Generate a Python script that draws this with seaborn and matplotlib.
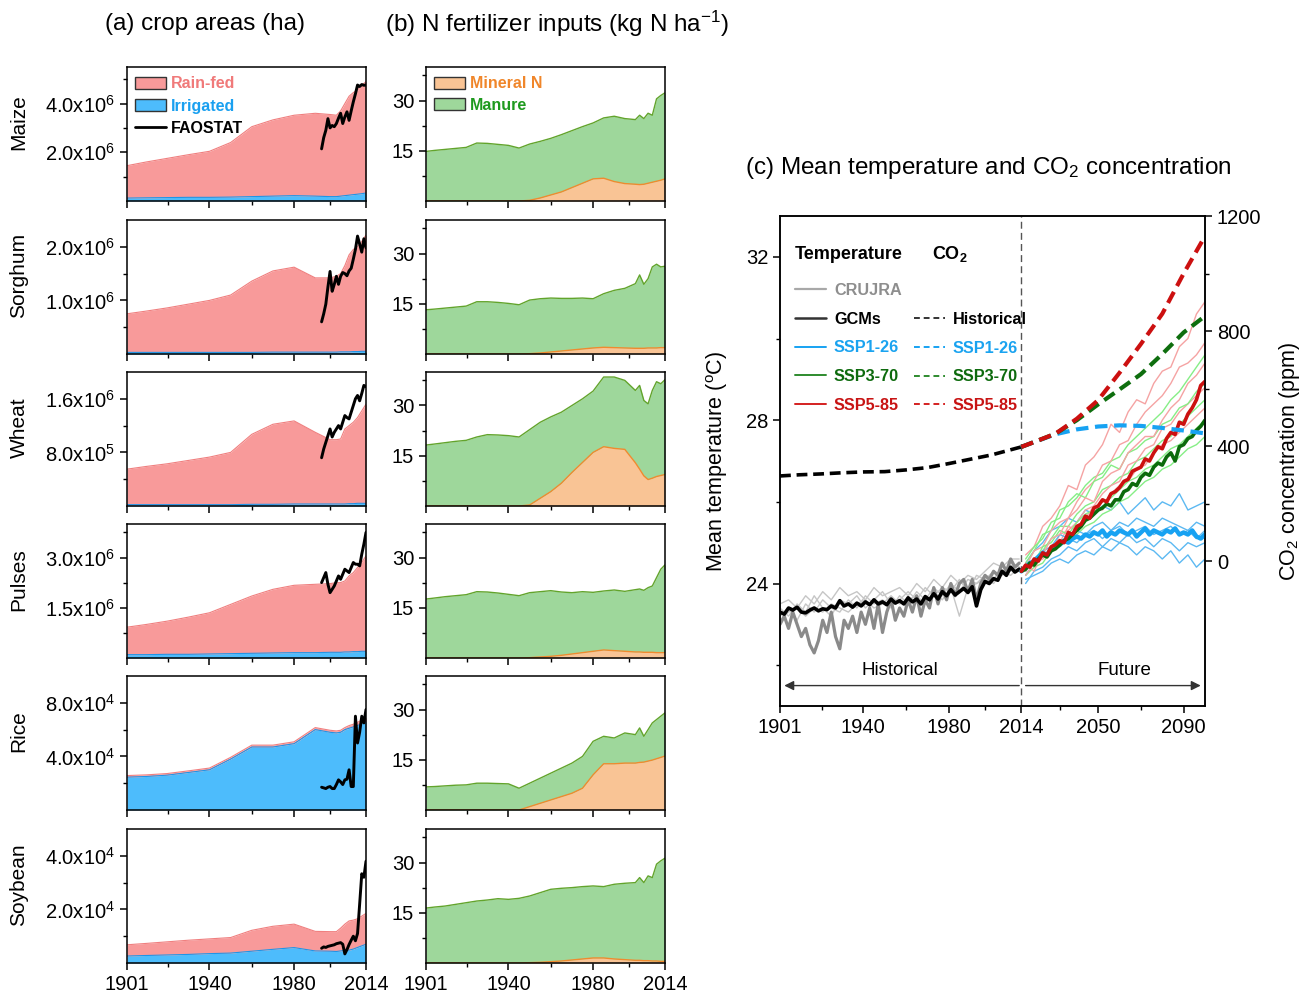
import numpy as np
import matplotlib
matplotlib.use("Agg")
import matplotlib.pyplot as plt
import seaborn as sns
from matplotlib.lines import Line2D
from matplotlib.patches import Patch
from matplotlib.ticker import FixedLocator, FixedFormatter

sns.set_style("ticks")
plt.rcParams['font.family'] = ['Liberation Sans', 'DejaVu Sans']
plt.rcParams['mathtext.fontset'] = 'custom'
plt.rcParams['mathtext.rm'] = 'Liberation Sans'
plt.rcParams['mathtext.it'] = 'Liberation Sans:italic'
plt.rcParams['mathtext.bf'] = 'Liberation Sans:bold'
plt.rcParams['axes.linewidth'] = 1.1
plt.rcParams['axes.edgecolor'] = 'black'
plt.rcParams['text.color'] = 'black'
plt.rcParams['axes.labelcolor'] = 'black'
plt.rcParams['xtick.color'] = 'black'
plt.rcParams['ytick.color'] = 'black'

# ---------------- DATA ----------------
crops = ["Maize", "Sorghum", "Wheat", "Pulses", "Rice", "Soybean"]

area_years = [1901, 1910, 1920, 1930, 1940, 1950, 1960, 1970, 1980, 1990,
              1997, 2000, 2002, 2004, 2006, 2008, 2010, 2012, 2014]
# stacked top (rain-fed + irrigated) and irrigated area
maize_total = [1.45, 1.6, 1.75, 1.9, 2.04, 2.4, 3.05, 3.33, 3.52, 3.6, 3.55, 3.52, 3.7, 4.0, 4.3, 4.45, 4.55, 4.75, 4.9]
maize_irr = [0.12, 0.13, 0.14, 0.15, 0.15, 0.16, 0.18, 0.2, 0.22, 0.2, 0.18, 0.18, 0.2, 0.22, 0.24, 0.26, 0.28, 0.3, 0.33]
sorghum_total = [0.75, 0.8, 0.86, 0.93, 1.0, 1.1, 1.36, 1.55, 1.62, 1.42, 1.42, 1.45, 1.5, 1.65, 1.85, 1.95, 2.0, 2.1, 2.22]
sorghum_irr = [0.03, 0.03, 0.03, 0.03, 0.03, 0.03, 0.03, 0.035, 0.035, 0.035, 0.035, 0.035, 0.04, 0.04, 0.04, 0.045, 0.045, 0.05, 0.05]
wheat_total = [0.55, 0.59, 0.63, 0.68, 0.73, 0.8, 1.07, 1.22, 1.27, 1.1, 0.99, 0.99, 1.0, 1.15, 1.2, 1.25, 1.32, 1.42, 1.52]
wheat_irr = [0.02, 0.02, 0.02, 0.02, 0.02, 0.02, 0.025, 0.025, 0.03, 0.03, 0.03, 0.03, 0.03, 0.03, 0.035, 0.035, 0.04, 0.04, 0.04]
pulses_total = [0.92, 1.0, 1.1, 1.22, 1.35, 1.6, 1.85, 2.05, 2.17, 2.2, 2.22, 2.25, 2.25, 2.3, 2.45, 2.55, 2.7, 2.85, 3.05]
pulses_irr = [0.1, 0.1, 0.11, 0.11, 0.12, 0.13, 0.14, 0.15, 0.16, 0.16, 0.17, 0.17, 0.17, 0.18, 0.18, 0.19, 0.19, 0.2, 0.2]
rice_total = [2.57, 2.62, 2.72, 2.92, 3.13, 3.93, 4.84, 4.84, 5.09, 6.15, 5.95, 5.9, 5.95, 6.15, 6.3, 6.4, 6.55, 6.7, 6.9]
rice_irr = [2.45, 2.5, 2.6, 2.8, 3.0, 3.8, 4.7, 4.7, 4.95, 6.0, 5.8, 5.75, 5.8, 6.0, 6.1, 6.2, 6.3, 6.45, 6.6]
soy_total = [0.68, 0.73, 0.79, 0.85, 0.9, 0.95, 1.22, 1.37, 1.45, 1.18, 1.17, 1.17, 1.3, 1.45, 1.57, 1.6, 1.65, 1.75, 1.85]
soy_irr = [0.26, 0.28, 0.30, 0.32, 0.35, 0.37, 0.44, 0.51, 0.575, 0.45, 0.44, 0.43, 0.45, 0.47, 0.48, 0.52, 0.58, 0.64, 0.7]

fao_years = list(range(1993, 2015))
maize_fao = [2.14, 2.6, 2.9, 3.38, 3.0, 3.1, 3.05, 3.18, 3.4, 3.6, 3.18, 3.45, 3.66, 3.31, 3.7, 4.07, 4.4, 4.76, 4.7, 4.78, 4.75, 4.76]
sorghum_fao = [0.6, 0.75, 0.93, 1.25, 1.54, 1.17, 1.3, 1.45, 1.3, 1.45, 1.52, 1.5, 1.46, 1.55, 1.6, 1.77, 1.95, 2.2, 2.05, 1.9, 2.15, 1.98]
wheat_fao = [0.72, 0.85, 0.95, 1.05, 1.15, 1.03, 1.1, 1.15, 1.2, 1.15, 1.25, 1.35, 1.32, 1.3, 1.4, 1.5, 1.6, 1.65, 1.57, 1.68, 1.8, 1.78]
pulses_fao = [2.25, 2.4, 2.55, 2.2, 1.95, 2.05, 2.15, 2.3, 2.45, 2.35, 2.5, 2.65, 2.6, 2.55, 2.7, 2.85, 2.8, 2.8, 2.75, 3.1, 3.4, 3.75]
rice_fao = [1.7, 1.65, 1.6, 1.7, 1.75, 1.6, 1.6, 1.9, 2.25, 2.1, 1.9, 2.25, 2.3, 3.0, 1.75, 1.75, 7.0, 5.0, 5.8, 7.0, 6.5, 7.5]
soy_fao = [0.55, 0.6, 0.58, 0.62, 0.64, 0.66, 0.68, 0.72, 0.74, 0.76, 0.7, 0.34, 0.5, 0.69, 0.85, 1.0, 0.83, 1.1, 2.2, 3.33, 3.2, 3.8]

area_unit = [1e6, 1e6, 1e6, 1e6, 1e4, 1e4]
area_ylim = [5.5e6, 2.5e6, 2.0e6, 4.0e6, 1.0e5, 5.0e4]
area_major = [[2e6, 4e6], [1e6, 2e6], [8e5, 1.6e6], [1.5e6, 3e6], [4e4, 8e4], [2e4, 4e4]]
area_major_lab = [["2.0x10$\\mathregular{^6}$", "4.0x10$\\mathregular{^6}$"],
                  ["1.0x10$\\mathregular{^6}$", "2.0x10$\\mathregular{^6}$"],
                  ["8.0x10$\\mathregular{^5}$", "1.6x10$\\mathregular{^6}$"],
                  ["1.5x10$\\mathregular{^6}$", "3.0x10$\\mathregular{^6}$"],
                  ["4.0x10$\\mathregular{^4}$", "8.0x10$\\mathregular{^4}$"],
                  ["2.0x10$\\mathregular{^4}$", "4.0x10$\\mathregular{^4}$"]]
area_minor = [[1e6, 3e6, 5e6], [0.5e6, 1.5e6], [4e5, 1.2e6], [0.75e6, 2.25e6, 3.75e6], [2e4, 6e4], [1e4, 3e4]]

fert_years = [1901, 1905, 1910, 1915, 1920, 1925, 1930, 1935, 1940, 1945, 1950, 1955, 1960, 1965,
              1970, 1975, 1980, 1985, 1990, 1995, 2000, 2002, 2004, 2006, 2008, 2010, 2012, 2014]
# stacked top (manure + mineral N) and mineral N, kg N/ha
maize_n_total = [14.8, 15.1, 15.4, 15.7, 16.0, 17.3, 17.2, 16.9, 16.6, 15.8, 17.0, 17.8, 18.7, 19.8,
                 21.0, 22.2, 23.3, 24.8, 25.3, 24.6, 24.3, 25.6, 24.6, 26.2, 25.6, 30.5, 31.5, 32.3]
maize_n_min = [0, 0, 0, 0, 0, 0, 0, 0, 0, 0, 0.2, 0.9, 1.8, 2.7,
               4.0, 5.3, 6.6, 6.8, 5.8, 5.2, 5.0, 4.9, 5.0, 5.3, 5.6, 5.9, 6.2, 6.6]
sorghum_n_total = [13.2, 13.4, 13.7, 14.0, 14.3, 15.6, 15.6, 15.4, 15.1, 14.7, 16.1, 16.5, 16.7, 16.6,
                   16.6, 16.7, 16.5, 18.0, 19.0, 19.6, 21.0, 23.6, 20.8, 22.5, 26.0, 26.8, 26.0, 26.2]
sorghum_n_min = [0, 0, 0, 0, 0, 0, 0, 0, 0, 0, 0.1, 0.3, 0.6, 0.9,
                 1.2, 1.5, 1.8, 2.0, 1.9, 1.8, 1.7, 1.7, 1.7, 1.8, 1.8, 1.8, 1.9, 1.9]
wheat_n_total = [18.2, 18.5, 18.9, 19.3, 19.6, 20.6, 21.3, 21.2, 21.0, 20.6, 22.8, 25.0, 26.6, 28.0,
                 30.0, 32.0, 34.3, 38.5, 38.5, 37.5, 34.5, 36.0, 31.5, 30.5, 34.5, 37.1, 36.5, 37.7]
wheat_n_min = [0, 0, 0, 0, 0, 0, 0, 0, 0, 0, 0.3, 2.3, 4.3, 6.8,
               10.0, 13.0, 16.0, 17.7, 17.2, 16.9, 12.9, 11.0, 9.0, 7.9, 8.3, 8.8, 9.1, 9.4]
pulses_n_total = [17.6, 17.9, 18.3, 18.6, 18.9, 19.8, 19.7, 19.4, 19.0, 18.6, 19.5, 19.8, 20.1, 19.7,
                  19.5, 19.8, 19.6, 20.0, 20.3, 19.9, 20.4, 20.6, 20.2, 21.0, 21.5, 24.0, 26.5, 27.8]
pulses_n_min = [0, 0, 0, 0, 0, 0, 0, 0, 0, 0, 0.1, 0.3, 0.5, 0.8,
                1.2, 1.6, 2.0, 2.4, 2.2, 2.0, 1.8, 1.8, 1.7, 1.7, 1.7, 1.6, 1.6, 1.6]
rice_n_total = [6.9, 7.0, 7.2, 7.4, 7.5, 8.0, 8.0, 7.9, 7.8, 6.5, 8.0, 9.5, 11.0, 12.5,
                14.0, 16.0, 20.5, 22.0, 21.5, 23.0, 22.5, 24.5, 22.0, 24.0, 26.0, 27.0, 28.0, 29.0]
rice_n_min = [0, 0, 0, 0, 0, 0, 0, 0, 0, 0, 1.0, 2.0, 3.0, 4.0,
              5.0, 6.5, 10.5, 13.8, 13.8, 14.0, 14.0, 14.2, 14.3, 14.6, 14.9, 15.3, 15.7, 16.1]
soy_n_total = [16.4, 16.7, 17.0, 17.5, 18.0, 18.5, 18.8, 19.2, 19.0, 19.3, 20.0, 21.0, 22.0, 22.3,
               22.5, 22.8, 23.0, 22.8, 23.5, 23.8, 24.0, 25.5, 24.0, 26.0, 25.5, 29.5, 30.5, 31.3]
soy_n_min = [0, 0, 0, 0, 0, 0, 0, 0, 0, 0, 0.1, 0.2, 0.4, 0.6,
             0.9, 1.2, 1.5, 1.5, 1.2, 1.0, 0.8, 0.8, 0.7, 0.7, 0.6, 0.6, 0.5, 0.5]

# temperature (deg C)
hist_years = list(range(1901, 2014, 2))
gcm_mean_hist = [23.30, 23.25, 23.40, 23.35, 23.42, 23.30, 23.28, 23.35, 23.40, 23.33,
                 23.38, 23.36, 23.45, 23.40, 23.58, 23.45, 23.50, 23.42, 23.52, 23.45,
                 23.55, 23.48, 23.60, 23.50, 23.55, 23.48, 23.62, 23.52, 23.58, 23.50,
                 23.65, 23.55, 23.62, 23.50, 23.68, 23.60, 23.75, 23.62, 23.80, 23.70,
                 23.85, 23.72, 23.80, 23.88, 23.78, 23.92, 23.45, 23.85, 24.05, 24.00,
                 24.12, 24.08, 24.30, 24.20, 24.40, 24.28, 24.35]
crujra = [23.0, 23.2, 22.9, 23.3, 23.0, 22.7, 22.9, 22.5, 22.3, 22.6,
          23.1, 22.8, 23.3, 22.7, 22.4, 23.1, 22.9, 23.2, 22.8, 23.3,
          23.0, 23.4, 22.9, 23.5, 22.8, 23.3, 23.6, 23.1, 23.4, 23.2,
          23.6, 23.3, 23.7, 23.2, 23.6, 23.4, 23.9, 23.5, 23.9, 23.6,
          24.0, 23.7, 24.0, 24.1, 23.8, 24.1, 23.6, 24.0, 24.2, 24.1,
          24.3, 24.2, 24.5, 24.3, 24.6, 24.4, 24.5]
hist_member_years = list(range(1901, 2014, 4))
hist_members = [
    [23.5, 23.6, 23.4, 23.7, 23.5, 23.8, 23.6, 23.9, 23.7, 23.8, 23.6, 23.9, 23.7, 23.8, 23.9,
     23.7, 24.0, 23.8, 24.1, 23.9, 24.2, 24.0, 24.2, 24.1, 24.3, 24.5, 24.4, 24.6, 24.6],
    [23.2, 23.4, 23.1, 23.5, 23.3, 23.6, 23.4, 23.3, 23.6, 23.4, 23.7, 23.5, 23.6, 23.4, 23.7,
     23.5, 23.8, 23.6, 23.9, 23.7, 24.0, 23.8, 24.1, 24.0, 24.2, 24.1, 24.4, 24.3, 24.5],
    [23.4, 23.2, 23.5, 23.3, 23.7, 23.4, 23.2, 23.6, 23.5, 23.7, 23.4, 23.6, 23.8, 23.5, 23.6,
     23.8, 23.6, 23.9, 23.7, 23.9, 23.8, 24.1, 23.8, 24.2, 24.1, 24.3, 24.2, 24.5, 24.4],
    [23.1, 23.3, 23.4, 23.2, 23.4, 23.3, 23.5, 23.4, 23.3, 23.5, 23.6, 23.4, 23.5, 23.7, 23.5,
     23.6, 23.7, 23.5, 23.8, 23.6, 23.9, 23.2, 23.9, 24.0, 24.1, 24.0, 24.3, 24.2, 24.4],
]
fut_years = list(range(2014, 2101, 2))
ssp126_mean = [24.30, 24.40, 24.50, 24.55, 24.65, 24.75, 24.70, 24.85, 24.90, 24.95,
               25.05, 25.00, 25.10, 25.15, 25.10, 25.20, 25.15, 25.25, 25.20, 25.30,
               25.15, 25.25, 25.20, 25.30, 25.25, 25.20, 25.30, 25.15, 25.25, 25.35,
               25.20, 25.30, 25.25, 25.20, 25.30, 25.25, 25.35, 25.20, 25.25, 25.20,
               25.30, 25.15, 25.10, 25.20]
ssp370_mean = [24.30, 24.35, 24.50, 24.45, 24.60, 24.70, 24.65, 24.80, 24.85, 24.95,
               25.05, 25.10, 25.20, 25.30, 25.40, 25.55, 25.60, 25.70, 25.80, 25.85,
               25.95, 25.90, 26.05, 26.05, 26.25, 26.30, 26.45, 26.40, 26.60, 26.70,
               26.65, 26.85, 26.95, 26.90, 27.10, 27.20, 27.00, 27.35, 27.40, 27.55,
               27.60, 27.75, 27.85, 28.00]
ssp585_mean = [24.30, 24.45, 24.40, 24.60, 24.55, 24.75, 24.70, 24.90, 24.95, 25.05,
               25.00, 25.25, 25.20, 25.40, 25.45, 25.65, 25.60, 25.85, 25.90, 26.05,
               26.00, 26.20, 26.25, 26.35, 26.50, 26.55, 26.75, 26.80, 26.85, 27.05,
               27.00, 27.20, 27.35, 27.30, 27.55, 27.70, 27.65, 27.95, 27.90, 28.15,
               28.30, 28.50, 28.85, 28.95]
fut_member_years = list(range(2016, 2101, 4))
ssp126_members = [
    [24.5, 24.8, 25.0, 25.3, 25.4, 25.6, 25.5, 25.8, 25.7, 25.9, 25.8, 26.0, 25.7, 25.9, 26.1, 25.8, 26.0, 25.9, 26.2, 25.8, 25.9, 26.0],
    [24.2, 24.5, 24.7, 24.8, 25.0, 25.1, 25.0, 25.2, 25.3, 25.1, 25.3, 25.4, 25.2, 25.3, 25.4, 25.2, 25.3, 25.4, 25.2, 25.3, 25.1, 25.3],
    [24.0, 24.3, 24.4, 24.6, 24.7, 24.9, 24.8, 25.0, 25.1, 24.9, 25.1, 25.0, 25.2, 25.0, 25.1, 24.9, 25.1, 25.0, 24.8, 25.0, 24.9, 25.0],
    [24.1, 24.2, 24.3, 24.5, 24.6, 24.5, 24.7, 24.8, 24.7, 24.9, 24.8, 25.0, 24.9, 24.7, 24.9, 24.8, 24.6, 24.8, 24.5, 24.7, 24.4, 24.6],
    [24.3, 24.6, 24.8, 24.9, 25.2, 25.1, 25.3, 25.2, 25.4, 25.5, 25.3, 25.5, 25.4, 25.6, 25.5, 25.4, 25.6, 25.5, 25.4, 25.3, 25.5, 25.4],
]
ssp370_members = [
    [24.5, 24.8, 25.2, 25.3, 25.8, 25.9, 26.1, 26.4, 26.6, 26.7, 27.0, 27.1, 27.4, 27.6, 27.8, 28.0, 28.2, 28.5, 28.7, 29.0, 29.3, 29.6],
    [24.3, 24.6, 24.8, 25.1, 25.4, 25.4, 25.7, 25.9, 26.0, 26.3, 26.4, 26.6, 26.7, 27.0, 27.1, 27.3, 27.5, 27.6, 27.9, 28.1, 28.3, 28.5],
    [24.2, 24.4, 24.5, 24.8, 24.9, 25.1, 25.2, 25.4, 25.5, 25.7, 25.8, 26.0, 26.1, 26.3, 26.5, 26.6, 26.8, 26.9, 27.1, 27.3, 27.4, 27.6],
    [24.6, 24.9, 25.1, 25.5, 25.6, 26.0, 26.2, 26.1, 26.5, 26.6, 26.9, 26.8, 27.2, 27.3, 27.5, 27.6, 27.9, 28.0, 28.3, 28.4, 28.7, 28.9],
    [24.4, 24.5, 24.9, 25.0, 25.3, 25.2, 25.5, 25.7, 25.8, 26.0, 26.1, 26.3, 26.5, 26.6, 26.8, 26.9, 27.1, 27.3, 27.4, 27.6, 27.8, 28.0],
]
ssp585_members = [
    [24.7, 24.9, 25.4, 25.6, 25.9, 26.4, 26.3, 26.9, 27.1, 27.4, 27.9, 27.7, 28.2, 28.5, 28.4, 28.9, 29.2, 29.3, 29.8, 30.0, 30.6, 30.9],
    [24.4, 24.8, 24.9, 25.3, 25.5, 25.6, 26.0, 26.3, 26.5, 26.9, 27.0, 27.4, 27.5, 27.9, 28.2, 28.4, 28.6, 28.9, 29.3, 29.4, 29.6, 29.9],
    [24.2, 24.5, 24.6, 24.8, 25.2, 25.3, 25.5, 25.8, 25.9, 26.2, 26.4, 26.5, 26.9, 27.0, 27.3, 27.4, 27.8, 27.9, 28.2, 28.4, 28.6, 28.8],
    [24.5, 24.3, 24.8, 24.9, 25.0, 25.4, 25.3, 25.6, 25.9, 25.8, 26.2, 26.4, 26.5, 26.8, 26.9, 27.2, 27.4, 27.5, 27.7, 27.9, 28.1, 28.3],
    [24.3, 24.6, 24.7, 25.1, 25.2, 25.6, 25.8, 26.1, 26.0, 26.5, 26.7, 26.8, 27.2, 27.4, 27.6, 27.6, 28.0, 28.3, 28.5, 28.9, 29.1, 29.4],
]
# CO2 (ppm)
co2_hist_years = [1901, 1910, 1920, 1930, 1940, 1950, 1960, 1970, 1980, 1990, 2000, 2010, 2014]
co2_hist = [296, 300, 303, 307, 310, 311, 317, 325, 339, 354, 369, 389, 397]
co2_fut_years = [2014, 2020, 2030, 2040, 2050, 2060, 2070, 2080, 2090, 2100]
co2_ssp126 = [397, 414, 441, 458, 468, 472, 470, 463, 454, 444]
co2_ssp370 = [397, 414, 443, 490, 545, 597, 650, 720, 795, 852]
co2_ssp585 = [397, 414, 443, 495, 560, 655, 755, 860, 1000, 1130]

# ---------------- STYLE ----------------
RAIN, RAIN_E = '#F89A9A', '#F07F7F'
IRR, IRR_E = '#4DBCFC', '#1E95E8'
MAN, MAN_E = '#9ED79B', '#62A42C'
MIN, MIN_E = '#F9C495', '#F08A2E'
C1, C3, C5 = '#17A2F2', '#0B6A0B', '#CC1010'
C1L, C3L, C5L = '#5CB9F2', '#86EE86', '#F5A3A3'

TICK = 14.5
W, H = 1311, 998
fig = plt.figure(figsize=(W / 100, H / 100), dpi=100)

def fax(left, top, width, height):
    return fig.add_axes([left / W, 1 - (top + height) / H, width / W, height / H])

area_tot = [maize_total, sorghum_total, wheat_total, pulses_total, rice_total, soy_total]
area_irr = [maize_irr, sorghum_irr, wheat_irr, pulses_irr, rice_irr, soy_irr]
area_fao = [maize_fao, sorghum_fao, wheat_fao, pulses_fao, rice_fao, soy_fao]
n_tot = [maize_n_total, sorghum_n_total, wheat_n_total, pulses_n_total, rice_n_total, soy_n_total]
n_min = [maize_n_min, sorghum_n_min, wheat_n_min, pulses_n_min, rice_n_min, soy_n_min]

row_tops = [67, 220, 372, 524, 676, 829]
ROW_H = 134
xmaj = [1901, 1940, 1980, 2014]
xmin = [1920.5, 1960, 1997]

def style_x(ax, last):
    ax.set_xlim(1901, 2014)
    ax.xaxis.set_major_locator(FixedLocator(xmaj))
    ax.xaxis.set_minor_locator(FixedLocator(xmin))
    ax.tick_params(axis='x', which='major', length=5, width=1.1, labelsize=TICK)
    ax.tick_params(axis='x', which='minor', length=3, width=1.0)
    if not last:
        ax.set_xticklabels([])
    ax.set_xlabel('')

for k, crop in enumerate(crops):
    last = (k == len(crops) - 1)
    # ---------- (a) crop areas ----------
    ax = fax(127, row_tops[k], 239, ROW_H)
    u = area_unit[k]
    tot = np.array(area_tot[k]) * u
    irr = np.array(area_irr[k]) * u
    ax.fill_between(area_years, 0, irr, color=IRR, lw=0, zorder=1)
    ax.fill_between(area_years, irr, tot, color=RAIN, lw=0, zorder=1)
    ax.plot(area_years, irr, color=IRR_E, lw=0.8, zorder=2)
    ax.plot(area_years, tot, color=RAIN_E, lw=0.8, zorder=2)
    sns.lineplot(x=fao_years, y=np.array(area_fao[k]) * u, ax=ax, color='black', lw=2.1, zorder=3)
    ax.set_ylim(0, area_ylim[k])
    ax.yaxis.set_major_locator(FixedLocator(area_major[k]))
    ax.yaxis.set_major_formatter(FixedFormatter(area_major_lab[k]))
    ax.yaxis.set_minor_locator(FixedLocator(area_minor[k]))
    ax.tick_params(axis='y', which='major', length=5, width=1.1, labelsize=TICK)
    ax.tick_params(axis='y', which='minor', length=3, width=1.0)
    ax.set_ylabel(crop, fontsize=15)
    ax.yaxis.set_label_coords(-0.412, 0.585)
    style_x(ax, last)
    if k == 0:
        h = [Patch(facecolor=RAIN, edgecolor='#333333', lw=1),
             Patch(facecolor=IRR, edgecolor='#333333', lw=1),
             Line2D([], [], color='black', lw=2)]
        leg = ax.legend(h, ['Rain-fed', 'Irrigated', 'FAOSTAT'], loc='upper left',
                        bbox_to_anchor=(0.035, 0.93), frameon=False,
                        handlelength=1.9, handleheight=0.75, handletextpad=0.35,
                        labelspacing=0.45, borderpad=0, borderaxespad=0,
                        prop={'weight': 'bold', 'size': 11.5})
        for t, c in zip(leg.get_texts(), ['#F07A7A', '#1AA0F0', 'black']):
            t.set_color(c)

    # ---------- (b) N fertilizer ----------
    bx = fax(426, row_tops[k], 239, ROW_H)
    nt = np.array(n_tot[k])
    nm = np.array(n_min[k])
    bx.fill_between(fert_years, 0, nm, color=MIN, lw=0, zorder=1)
    bx.fill_between(fert_years, nm, nt, color=MAN, lw=0, zorder=1)
    sns.lineplot(x=fert_years, y=nm, ax=bx, color=MIN_E, lw=1.0, zorder=2)
    sns.lineplot(x=fert_years, y=nt, ax=bx, color=MAN_E, lw=1.0, zorder=2)
    bx.set_ylim(0, 40)
    bx.yaxis.set_major_locator(FixedLocator([15, 30]))
    bx.yaxis.set_minor_locator(FixedLocator([7.5, 22.5, 37.5]))
    bx.tick_params(axis='y', which='major', length=5, width=1.1, labelsize=TICK)
    bx.tick_params(axis='y', which='minor', length=3, width=1.0)
    bx.set_ylabel('')
    style_x(bx, last)
    if k == 0:
        h = [Patch(facecolor=MIN, edgecolor='#333333', lw=1),
             Patch(facecolor=MAN, edgecolor='#333333', lw=1)]
        leg = bx.legend(h, ['Mineral N', 'Manure'], loc='upper left',
                        bbox_to_anchor=(0.035, 0.93), frameon=False,
                        handlelength=1.9, handleheight=0.75, handletextpad=0.35,
                        labelspacing=0.4, borderpad=0, borderaxespad=0,
                        prop={'weight': 'bold', 'size': 11.5})
        for t, c in zip(leg.get_texts(), ['#F0862A', '#1E9A1E']):
            t.set_color(c)

fig.text(105 / W, 1 - 24 / H, "(a) crop areas (ha)", fontsize=17.5, va='center', ha='left')
fig.text(385 / W, 1 - 24 / H, "(b) N fertilizer inputs (kg N ha$\\mathregular{^{-1}}$)",
         fontsize=17.5, va='center', ha='left')
fig.text(745 / W, 1 - 168 / H, "(c) Mean temperature and CO$\\mathregular{_2}$ concentration",
         fontsize=17.5, va='center', ha='left')

# ---------- (c) temperature & CO2 ----------
cx = fax(780, 216, 425, 490)
for m in hist_members:
    cx.plot(hist_member_years, m, color='#C6C6C6', lw=1.0, zorder=1)
sns.lineplot(x=hist_years, y=crujra, ax=cx, color='#8A8A8A', lw=2.3, zorder=2)
for mb, mg, mr in zip(ssp126_members, ssp370_members, ssp585_members):
    cx.plot(fut_member_years, mb, color=C1L, lw=1.0, zorder=1)
    cx.plot(fut_member_years, mg, color=C3L, lw=1.0, zorder=1)
    cx.plot(fut_member_years, mr, color=C5L, lw=1.0, zorder=1)
sns.lineplot(x=hist_years, y=gcm_mean_hist, ax=cx, color='black', lw=2.6, zorder=3)
sns.lineplot(x=fut_years, y=ssp126_mean, ax=cx, color=C1, lw=3.2, zorder=3)
sns.lineplot(x=fut_years, y=ssp370_mean, ax=cx, color=C3, lw=2.6, zorder=4)
sns.lineplot(x=fut_years, y=ssp585_mean, ax=cx, color=C5, lw=2.6, zorder=5)
cx.axvline(2014, color='#555555', lw=1.0, ls=(0, (5, 3)), zorder=0)
cx.set_xlim(1901, 2100)
cx.set_ylim(21, 33)
cx.xaxis.set_major_locator(FixedLocator([1901, 1940, 1980, 2014, 2050, 2090]))
cx.xaxis.set_minor_locator(FixedLocator([1920.5, 1960, 1997, 2032, 2070]))
cx.yaxis.set_major_locator(FixedLocator([24, 28, 32]))
cx.yaxis.set_minor_locator(FixedLocator([22, 26, 30]))
cx.tick_params(which='major', length=5, width=1.1, labelsize=TICK)
cx.tick_params(which='minor', length=3, width=1.0)
cx.set_xlabel('')
cx.set_ylabel('Mean temperature ($\\mathregular{^o}$C)', fontsize=15.5)
cx.yaxis.set_label_coords(-0.118, 0.5)

# period arrows
cx.annotate('', xy=(1903, 21.5), xytext=(2013, 21.5),
            arrowprops=dict(arrowstyle='-|>', color='#333333', lw=1.0, mutation_scale=14,
                            shrinkA=0, shrinkB=0))
cx.annotate('', xy=(2098, 21.5), xytext=(2016, 21.5),
            arrowprops=dict(arrowstyle='-|>', color='#333333', lw=1.0, mutation_scale=14,
                            shrinkA=0, shrinkB=0))
cx.text(1957, 21.87, 'Historical', fontsize=13.5, ha='center', va='center')
cx.text(2062.5, 21.87, 'Future', fontsize=13.5, ha='center', va='center')

c2 = cx.twinx()
DASH = (0, (3.0, 1.6))
sns.lineplot(x=co2_hist_years, y=co2_hist, ax=c2, color='black', lw=2.6, ls=DASH)
sns.lineplot(x=co2_fut_years, y=co2_ssp126, ax=c2, color=C1, lw=3.0, ls=DASH)
sns.lineplot(x=co2_fut_years, y=co2_ssp370, ax=c2, color='#0E6E0E', lw=3.0, ls=DASH)
sns.lineplot(x=co2_fut_years, y=co2_ssp585, ax=c2, color=C5, lw=3.0, ls=DASH)
c2.set_ylim(-504, 1200)
c2.yaxis.set_major_locator(FixedLocator([0, 400, 800, 1200]))
c2.yaxis.set_minor_locator(FixedLocator([200, 600, 1000]))
c2.tick_params(which='major', length=5, width=1.1, labelsize=TICK)
c2.tick_params(which='minor', length=3, width=1.0)
c2.set_ylabel('CO$\\mathregular{_2}$ concentration (ppm)', fontsize=15.5)
c2.yaxis.set_label_coords(1.17, 0.5)
c2.set_xlim(1901, 2100)

# legend
c2.text((795 - 780) / 425, 1 - (254 - 216) / 490, 'Temperature', transform=c2.transAxes,
        fontsize=13, fontweight='bold', va='center', ha='left')
c2.text((932 - 780) / 425, 1 - (254 - 216) / 490, 'CO$\\mathbf{_2}$', transform=c2.transAxes,
        fontsize=13, fontweight='bold', va='center', ha='left')
h1 = [Line2D([], [], color='#A8A8A8', lw=1.6), Line2D([], [], color='#333333', lw=1.8),
      Line2D([], [], color=C1, lw=1.4), Line2D([], [], color='#2E8B2E', lw=1.4),
      Line2D([], [], color='#D42020', lw=1.4)]
lab1 = ['CRUJRA', 'GCMs', 'SSP1-26', 'SSP3-70', 'SSP5-85']
col1 = ['#8E8E8E', 'black', '#1AA3F0', '#0E6B0E', '#C81414']
leg1 = c2.legend(h1, lab1, loc='upper left', bbox_to_anchor=((795 - 780) / 425, 1 - (283 - 216) / 490),
                 frameon=False, handlelength=1.9, handletextpad=0.5, labelspacing=0.84,
                 borderpad=0, borderaxespad=0, prop={'weight': 'bold', 'size': 11.7})
for t, c in zip(leg1.get_texts(), col1):
    t.set_color(c)
c2.add_artist(leg1)
h2 = [Line2D([], [], color='#333333', lw=1.4, ls=(0, (3, 2))),
      Line2D([], [], color=C1, lw=1.4, ls=(0, (3, 2))),
      Line2D([], [], color='#2E8B2E', lw=1.4, ls=(0, (3, 2))),
      Line2D([], [], color='#D42020', lw=1.4, ls=(0, (3, 2)))]
lab2 = ['Historical', 'SSP1-26', 'SSP3-70', 'SSP5-85']
col2 = ['black', '#1AA3F0', '#0E6B0E', '#C81414']
leg2 = c2.legend(h2, lab2, loc='upper left', bbox_to_anchor=((914 - 780) / 425, 1 - (312 - 216) / 490),
                 frameon=False, handlelength=1.9, handletextpad=0.5, labelspacing=0.84,
                 borderpad=0, borderaxespad=0, prop={'weight': 'bold', 'size': 11.7})
for t, c in zip(leg2.get_texts(), col2):
    t.set_color(c)

fig.savefig('out.png', dpi=100)
